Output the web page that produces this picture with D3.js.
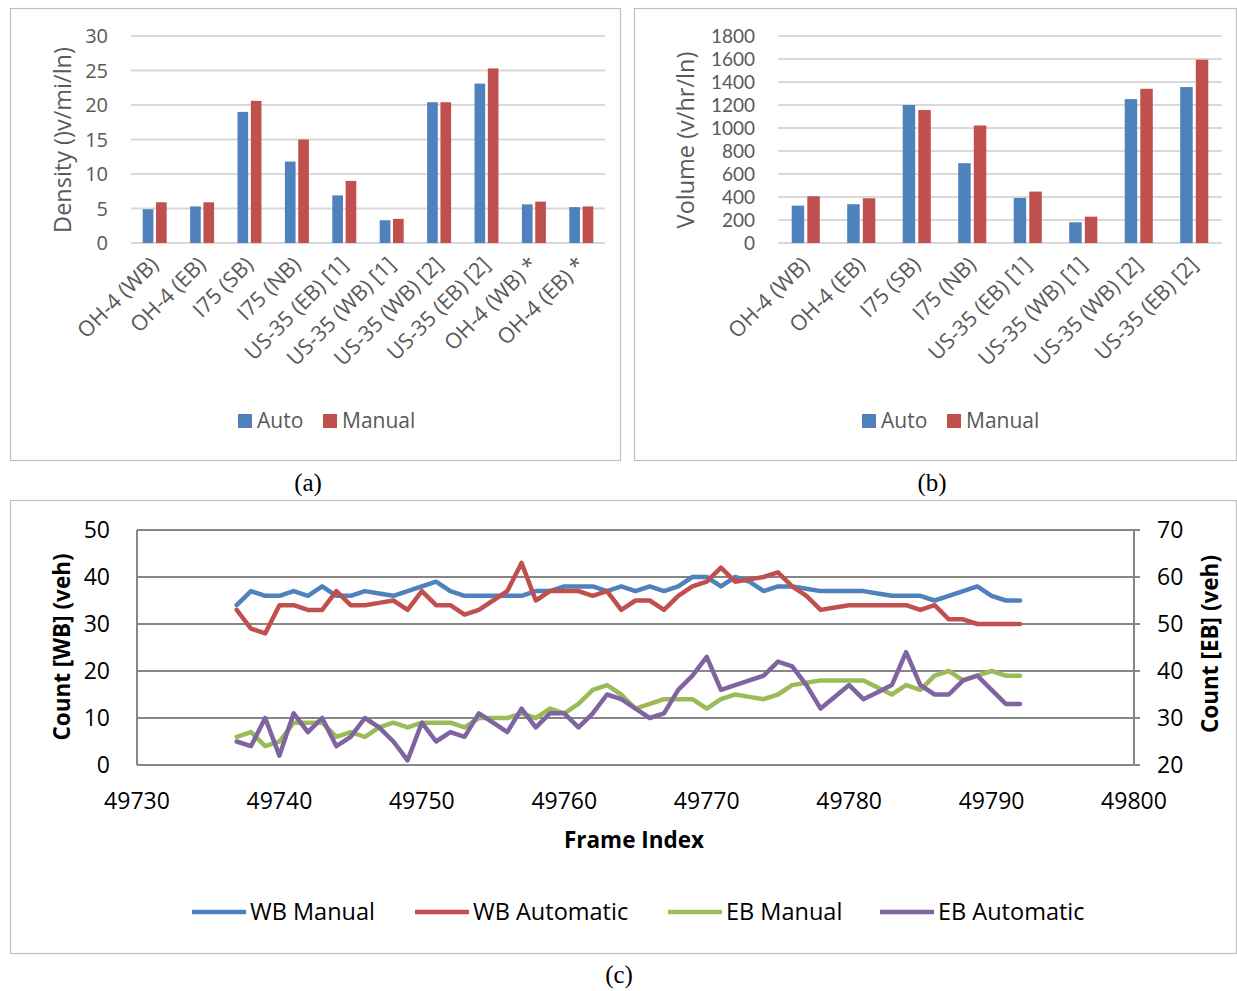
<!DOCTYPE html>
<html>
<head>
<meta charset="utf-8">
<script src="https://cdn.jsdelivr.net/npm/d3@7"></script>
<style>
  body { margin: 0; background: #fff; }
  svg { display: block; }
  text { font-family: "Open Sans", Lato, sans-serif; }
</style>
</head>
<body>
<svg id="fig" width="1237" height="991"></svg>
<script>
// ---- Panel (a): density per site ----
const densitySites = ["OH-4 (WB)", "OH-4 (EB)", "I75 (SB)", "I75 (NB)", "US-35 (EB) [1]",
  "US-35 (WB) [1]", "US-35 (WB) [2]", "US-35 (EB) [2]", "OH-4 (WB) *", "OH-4 (EB) *"];
const densityAuto   = [4.9, 5.3, 19.0, 11.8, 6.9, 3.3, 20.4, 23.1, 5.6, 5.2];
const densityManual = [5.9, 5.9, 20.6, 15.0, 9.0, 3.5, 20.4, 25.3, 6.0, 5.3];
const densityTicks  = [0, 5, 10, 15, 20, 25, 30];

// ---- Panel (b): volume per site ----
const volumeSites = ["OH-4 (WB)", "OH-4 (EB)", "I75 (SB)", "I75 (NB)", "US-35 (EB) [1]",
  "US-35 (WB) [1]", "US-35 (WB) [2]", "US-35 (EB) [2]"];
const volumeAuto   = [325, 337, 1200, 694, 392, 180, 1251, 1356];
const volumeManual = [406, 389, 1156, 1022, 447, 229, 1341, 1594];
const volumeTicks  = [0, 200, 400, 600, 800, 1000, 1200, 1400, 1600, 1800];

// ---- Panel (c): counts per frame ----
const frames = [49737, 49738, 49739, 49740, 49741, 49742, 49743, 49744, 49745, 49746,
  49747, 49748, 49749, 49750, 49751, 49752, 49753, 49754, 49755, 49756,
  49757, 49758, 49759, 49760, 49761, 49762, 49763, 49764, 49765, 49766,
  49767, 49768, 49769, 49770, 49771, 49772, 49773, 49774, 49775, 49776,
  49777, 49778, 49779, 49780, 49781, 49782, 49783, 49784, 49785, 49786,
  49787, 49788, 49789, 49790, 49791, 49792];
const wbManual = [34, 37, 36, 36, 37, 36, 38, 36, 36, 37,
  36.5, 36, 37, 38, 39, 37, 36, 36, 36, 36,
  36, 37, 37, 38, 38, 38, 37, 38, 37, 38,
  37, 38, 40, 40, 38, 40, 39, 37, 38, 38,
  37.5, 37, 37, 37, 37, 36.5, 36, 36, 36, 35,
  36, 37, 38, 36, 35, 35];
const wbAutomatic = [33, 29, 28, 34, 34, 33, 33, 37, 34, 34,
  34.5, 35, 33, 37, 34, 34, 32, 33, 35, 37,
  43, 35, 37, 37, 37, 36, 37, 33, 35, 35,
  33, 36, 38, 39, 42, 39, 39.5, 40, 41, 38,
  36, 33, 33.5, 34, 34, 34, 34, 34, 33, 34,
  31, 31, 30, 30, 30, 30];
const ebManual = [26, 27, 24, 25, 29, 29, 29, 26, 27, 26,
  28, 29, 28, 29, 29, 29, 28, 30, 30, 30,
  31, 30, 32, 31, 33, 36, 37, 35, 32, 33,
  34, 34, 34, 32, 34, 35, 34.5, 34, 35, 37,
  37.5, 38, 38, 38, 38, 36.5, 35, 37, 36, 39,
  40, 38, 39, 40, 39, 39];
const ebAutomatic = [25, 24, 30, 22, 31, 27, 30, 24, 26, 30,
  28, 25, 21, 29, 25, 27, 26, 31, 29, 27,
  32, 28, 31, 31, 28, 31, 35, 34, 32, 30,
  31, 36, 39, 43, 36, 37, 38, 39, 42, 41,
  37, 32, 34.5, 37, 34, 35.5, 37, 44, 37, 35,
  35, 38, 39, 36, 33, 33];
const frameTicks = [49730, 49740, 49750, 49760, 49770, 49780, 49790, 49800];
const wbTicks = [0, 10, 20, 30, 40, 50];
const ebTicks = [20, 30, 40, 50, 60, 70];

const BLUE = "#4f81bd", RED = "#c0504d", GREEN = "#9bbb59", PURPLE = "#8064a2";
const LABEL = "#595959";

const svg = d3.select("#fig");
svg.append("rect").attr("width", 1237).attr("height", 991).attr("fill", "#fff");

// panel frames
const frameBoxes = [
  {x: 10, y: 8, w: 610, h: 452},
  {x: 634, y: 8, w: 602, h: 452},
  {x: 10, y: 500, w: 1226, h: 453}
];
svg.selectAll("rect.panel").data(frameBoxes).join("rect")
  .attr("class", "panel")
  .attr("x", d => d.x + 0.5).attr("y", d => d.y + 0.5)
  .attr("width", d => d.w).attr("height", d => d.h)
  .attr("fill", "none").attr("stroke", "#bfbfbf").attr("stroke-width", 1.2);

// captions
const captions = [{t: "(a)", x: 308, y: 491}, {t: "(b)", x: 932, y: 491}, {t: "(c)", x: 619, y: 983}];
svg.selectAll("text.cap").data(captions).join("text")
  .attr("class", "cap")
  .attr("x", d => d.x).attr("y", d => d.y)
  .attr("text-anchor", "middle")
  .style("font-family", "'Liberation Serif', 'Times New Roman', serif")
  .style("font-size", "25px").attr("fill", "#000")
  .text(d => d.t);

// ---- grouped bar chart ----
function barPanel(cfg) {
  const g = svg.append("g");
  const x = d3.scaleBand().domain(cfg.sites).range([cfg.x0, cfg.x1]);
  const y = d3.scaleLinear().domain([0, cfg.max]).range([243, 36]);
  const groupW = x.bandwidth() * 0.506;
  const inner = d3.scaleBand().domain(["Auto", "Manual"])
    .range([0, groupW]).paddingInner(0.2);

  // gridlines
  g.selectAll("line.grid").data(cfg.ticks).join("line")
    .attr("x1", cfg.x0).attr("x2", cfg.x1)
    .attr("y1", d => y(d)).attr("y2", d => y(d))
    .attr("stroke", "#d9d9d9").attr("stroke-width", 1.8);

  // y tick labels
  g.selectAll("text.yt").data(cfg.ticks).join("text")
    .attr("x", cfg.labelX).attr("y", d => y(d))
    .attr("dy", "0.36em").attr("text-anchor", "end")
    .attr("fill", LABEL)
    .style("font-family", cfg.tickFont).style("font-size", cfg.tickSize)
    .text(d => d);

  // bars
  const rows = cfg.sites.map((s, i) => ({site: s, Auto: cfg.auto[i], Manual: cfg.manual[i]}));
  const grp = g.selectAll("g.site").data(rows).join("g")
    .attr("transform", d => `translate(${x(d.site) + (x.bandwidth() - groupW) / 2},0)`);
  grp.selectAll("rect").data(d => [{k: "Auto", v: d.Auto}, {k: "Manual", v: d.Manual}]).join("rect")
    .attr("x", d => inner(d.k)).attr("width", inner.bandwidth())
    .attr("y", d => y(d.v)).attr("height", d => y(0) - y(d.v))
    .attr("fill", d => d.k === "Auto" ? BLUE : RED);

  // rotated category labels
  g.selectAll("text.xl").data(cfg.sites).join("text")
    .attr("text-anchor", "end")
    .attr("transform", d => `translate(${x(d) + x.bandwidth() / 2 + 5},${266}) rotate(-45)`)
    .attr("fill", LABEL).style("font-size", "21.5px")
    .text(d => d);

  // y title
  g.append("text")
    .attr("transform", `translate(${cfg.titleX},140) rotate(-90)`)
    .attr("text-anchor", "middle").attr("fill", LABEL)
    .style("font-size", "23.5px").text(cfg.title);

  // legend
  const lg = g.append("g").attr("transform", `translate(${cfg.legendX},428)`);
  const items = [{k: "Auto", c: BLUE, dx: 0}, {k: "Manual", c: RED, dx: cfg.legendGap}];
  lg.selectAll("rect").data(items).join("rect")
    .attr("x", d => d.dx).attr("y", -14).attr("width", 14).attr("height", 14)
    .attr("fill", d => d.c);
  lg.selectAll("text").data(items).join("text")
    .attr("x", d => d.dx + 19).attr("y", 0)
    .attr("fill", LABEL).style("font-size", "21px")
    .text(d => d.k);
}

barPanel({sites: densitySites, auto: densityAuto, manual: densityManual, ticks: densityTicks,
  max: 30, x0: 131, x1: 605, labelX: 108, titleX: 71, title: "Density ()v/mi/ln)",
  legendX: 238, legendGap: 85, tickFont: "'Open Sans', sans-serif", tickSize: "20px"});
barPanel({sites: volumeSites, auto: volumeAuto, manual: volumeManual, ticks: volumeTicks,
  max: 1800, x0: 778, x1: 1222, labelX: 755, titleX: 694, title: "Volume (v/hr/ln)",
  legendX: 862, legendGap: 85, tickFont: "Lato, sans-serif", tickSize: "19px"});

// ---- dual-axis line chart ----
const lc = svg.append("g");
const fx = d3.scaleLinear().domain([49730, 49800]).range([137, 1134]);
const yL = d3.scaleLinear().domain([0, 50]).range([765, 530]);
const yR = d3.scaleLinear().domain([20, 70]).range([765, 530]);
const AX = "#868686";

lc.selectAll("line.grid").data(wbTicks).join("line")
  .attr("x1", fx(49730)).attr("x2", fx(49800))
  .attr("y1", d => yL(d)).attr("y2", d => yL(d))
  .attr("stroke", AX).attr("stroke-width", 2);
lc.append("line").attr("x1", fx(49730)).attr("x2", fx(49730))
  .attr("y1", yL(0)).attr("y2", yL(50)).attr("stroke", AX).attr("stroke-width", 2);
lc.append("line").attr("x1", fx(49800)).attr("x2", fx(49800))
  .attr("y1", yL(0)).attr("y2", yL(50)).attr("stroke", AX).attr("stroke-width", 2);
lc.selectAll("line.rt").data(ebTicks).join("line")
  .attr("x1", fx(49800)).attr("x2", fx(49800) + 6)
  .attr("y1", d => yR(d)).attr("y2", d => yR(d))
  .attr("stroke", AX).attr("stroke-width", 2);

lc.selectAll("text.lt").data(wbTicks).join("text")
  .attr("x", 110).attr("y", d => yL(d)).attr("dy", "0.36em")
  .attr("text-anchor", "end").attr("fill", "#000").style("font-size", "23px")
  .text(d => d);
lc.selectAll("text.rtl").data(ebTicks).join("text")
  .attr("x", 1157).attr("y", d => yR(d)).attr("dy", "0.36em")
  .attr("text-anchor", "start").attr("fill", "#000").style("font-size", "23px")
  .text(d => d);
lc.selectAll("text.xt").data(frameTicks).join("text")
  .attr("x", d => fx(d)).attr("y", 809)
  .attr("text-anchor", "middle").attr("fill", "#000").style("font-size", "23px")
  .text(d => d);

lc.append("text").attr("x", 634).attr("y", 848).attr("text-anchor", "middle")
  .style("font-weight", "bold").style("font-size", "22.5px").attr("fill", "#000")
  .text("Frame Index");
lc.append("text").attr("transform", "translate(70,647) rotate(-90)")
  .attr("text-anchor", "middle").style("font-weight", "bold").style("font-size", "22.5px")
  .attr("fill", "#000").text("Count [WB] (veh)");
lc.append("text").attr("transform", "translate(1218,644) rotate(-90)")
  .attr("text-anchor", "middle").style("font-weight", "bold").style("font-size", "22.5px")
  .attr("fill", "#000").text("Count [EB] (veh)");

const series = [
  {name: "WB Manual", vals: wbManual, y: yL, c: BLUE, lx: 192},
  {name: "WB Automatic", vals: wbAutomatic, y: yL, c: RED, lx: 415},
  {name: "EB Manual", vals: ebManual, y: yR, c: GREEN, lx: 668},
  {name: "EB Automatic", vals: ebAutomatic, y: yR, c: PURPLE, lx: 880}
];
series.forEach(s => {
  const line = d3.line().x((d, i) => fx(frames[i])).y(d => s.y(d));
  lc.append("path").datum(s.vals).attr("d", line)
    .attr("fill", "none").attr("stroke", s.c).attr("stroke-width", 4.5)
    .attr("stroke-linejoin", "round").attr("stroke-linecap", "round");
});

const leg = lc.append("g");
leg.selectAll("line").data(series).join("line")
  .attr("x1", d => d.lx).attr("x2", d => d.lx + 54)
  .attr("y1", 912).attr("y2", 912)
  .attr("stroke", d => d.c).attr("stroke-width", 4.5);
leg.selectAll("text").data(series).join("text")
  .attr("x", d => d.lx + 58).attr("y", 912).attr("dy", "0.36em")
  .attr("fill", "#000").style("font-size", "23.5px")
  .text(d => d.name);
</script>
</body>
</html>
